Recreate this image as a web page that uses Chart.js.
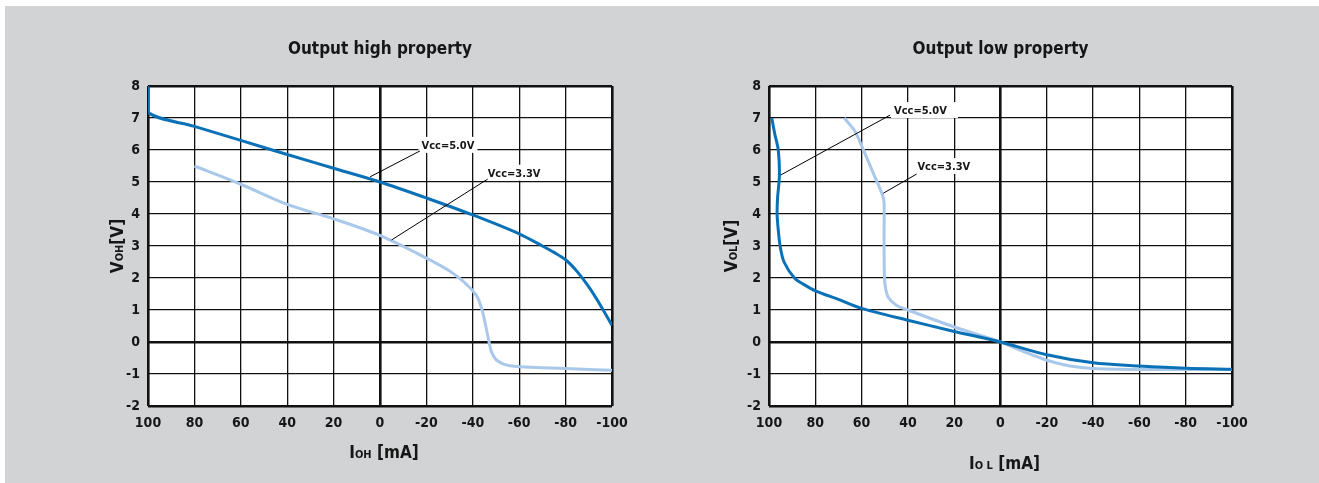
<!DOCTYPE html>
<html>
<head>
<meta charset="utf-8">
<script src="https://cdn.jsdelivr.net/npm/chart.js@4.4.1/dist/chart.umd.min.js"></script>
<style>
  html, body { margin: 0; padding: 0; background: #fff; overflow: hidden; }
  #panel { position: fixed; left: 5px; top: 6px; width: 1400px; height: 600px; background: #d1d3d4; }
  .box { position: fixed; top: 6px; height: 477px; }
  #leftBox { left: 5px; width: 655px; }
  #rightBox { left: 660px; width: 659px; }
</style>
</head>
<body>
<div id="panel"></div>
<div class="box" id="leftBox"><canvas id="highChart"></canvas></div>
<div class="box" id="rightBox"><canvas id="lowChart"></canvas></div>
<script>
// tick labels
const xTicks = [100, 80, 60, 40, 20, 0, -20, -40, -60, -80, -100];
const yTicks = [8, 7, 6, 5, 4, 3, 2, 1, 0, -1, -2];

// Output high property, Vcc=5.0V
const highVcc50X = [100, 100, 80, 60, 40, 20, 0, -20, -40, -60, -70, -75, -80, -85, -90, -95, -100];
const highVcc50Y = [8.0, 7.18, 6.74, 6.3, 5.86, 5.43, 5.0, 4.5, 3.97, 3.38, 3.0, 2.8, 2.57, 2.2, 1.72, 1.15, 0.52];
// Output high property, Vcc=3.3V
const highVcc33X = [80, 60, 40, 20, 0, -20, -30, -35, -38, -40, -42, -44, -45, -46, -47, -48, -50, -53, -56, -60, -80, -100];
const highVcc33Y = [5.5, 4.93, 4.3, 3.85, 3.33, 2.62, 2.22, 1.95, 1.75, 1.6, 1.4, 1.0, 0.7, 0.35, 0.0, -0.3, -0.55, -0.68, -0.74, -0.77, -0.83, -0.88];

// Output low property, Vcc=5.0V
const lowVcc50X = [98.8, 97.5, 96, 95.5, 96.3, 96.5, 96, 95.2, 93.5, 89, 85, 80, 70, 60, 40, 20, 0, -20, -40, -60, -80, -100];
const lowVcc50Y = [7.0, 6.5, 6.0, 5.2, 4.5, 4.0, 3.5, 3.0, 2.5, 2.0, 1.8, 1.6, 1.33, 1.05, 0.68, 0.33, 0, -0.4, -0.65, -0.75, -0.82, -0.85];
// Output low property, Vcc=3.3V
const lowVcc33X = [67.5, 63, 59.5, 54.5, 51, 50.3, 50.3, 50.2, 49.8, 48.5, 45, 40, 20, 0, -10, -20, -30, -40, -60, -100];
const lowVcc33Y = [7.0, 6.6, 6.05, 5.2, 4.6, 4.35, 3.3, 2.2, 1.75, 1.4, 1.15, 1.0, 0.47, 0, -0.3, -0.57, -0.75, -0.83, -0.86, -0.86];

const FONT = "'Liberation Sans Narrow', 'DejaVu Sans Condensed', 'Roboto Condensed', sans-serif";
const DARK = '#0a71b7';
const LIGHT = '#a9c8ea';
const INK = '#161616';

const toPoints = (xs, ys) => xs.map((x, i) => ({ x: x, y: ys[i] }));

// white plot area
const plotBg = {
  id: 'plotBg',
  beforeDraw(chart) {
    const { ctx, chartArea: a } = chart;
    ctx.save();
    ctx.fillStyle = '#fff';
    ctx.fillRect(a.left, a.top, a.right - a.left, a.bottom - a.top);
    ctx.restore();
  }
};

function drawParts(ctx, parts, cx, cy, rot) {
  ctx.save();
  ctx.translate(cx, cy);
  ctx.rotate(rot);
  let total = 0;
  parts.forEach(p => {
    ctx.font = `bold ${p.size}px ${FONT}`;
    p.w = ctx.measureText(p.text).width;
    total += p.w;
  });
  let x = -total / 2;
  parts.forEach(p => {
    ctx.font = `bold ${p.size}px ${FONT}`;
    ctx.fillText(p.text, x, 6);
    x += p.w;
  });
  ctx.restore();
}

// axis titles with small subscript letters
const axisTitles = {
  id: 'axisTitles',
  afterDraw(chart, args, opts) {
    const { ctx, chartArea: a } = chart;
    ctx.save();
    ctx.fillStyle = INK;
    ctx.textBaseline = 'alphabetic';
    drawParts(ctx, opts.xParts, (a.left + a.right) / 2 + 4, a.bottom + opts.xOffset, 0);
    drawParts(ctx, opts.yParts, a.left - opts.yOffset, (a.top + a.bottom) / 2, -Math.PI / 2);
    ctx.restore();
  }
};

// Vcc labels with leader lines
const callouts = {
  id: 'callouts',
  afterDatasetsDraw(chart, args, opts) {
    const { ctx, scales: { x, y } } = chart;
    ctx.save();
    opts.items.forEach(c => {
      ctx.font = `bold 11px ${FONT}`;
      const w = ctx.measureText(c.text).width;
      const lx = x.getPixelForValue(c.at[0]);
      const ly = y.getPixelForValue(c.at[1]);
      ctx.fillStyle = '#fff';
      ctx.fillRect(lx - 3, ly - 8, w + 6 + (c.extra || 0), 16);
      ctx.strokeStyle = '#000';
      ctx.lineWidth = 1;
      ctx.beginPath();
      ctx.moveTo(x.getPixelForValue(c.from[0]), y.getPixelForValue(c.from[1]));
      ctx.lineTo(x.getPixelForValue(c.to[0]), y.getPixelForValue(c.to[1]));
      ctx.stroke();
      ctx.fillStyle = INK;
      ctx.textBaseline = 'middle';
      ctx.fillText(c.text, lx, ly + 1);
    });
    ctx.restore();
  }
};

function gridWidth(ctx) {
  const v = ctx.tick ? ctx.tick.value : null;
  return (v === 0 || v === 8 || v === -2 || v === 100 || v === -100) ? 2.6 : 1.3;
}

function makeChart(id, cfg) {
  return new Chart(document.getElementById(id), {
    type: 'scatter',
    data: {
      datasets: [
        { label: 'Vcc=5.0V', data: cfg.dark, borderColor: DARK, showLine: true, borderWidth: 3, pointRadius: 0, tension: 0.3 },
        { label: 'Vcc=3.3V', data: cfg.light, borderColor: LIGHT, showLine: true, borderWidth: 3, pointRadius: 0, tension: 0.3 },
      ],
    },
    options: {
      responsive: true,
      maintainAspectRatio: false,
      animation: false,
      layout: { padding: { left: 0, right: cfg.padRight, top: 0, bottom: 0 } },
      plugins: {
        legend: { display: false },
        tooltip: { enabled: false },
        title: {
          display: true,
          text: cfg.title,
          fullSize: false,
          color: INK,
          font: { family: FONT, size: 17, weight: 'bold' },
          padding: { top: 33, bottom: 26.6 },
        },
        axisTitles: cfg.axisTitles,
        callouts: { items: cfg.callouts },
      },
      scales: {
        x: {
          type: 'linear',
          reverse: true,
          min: -100,
          max: 100,
          afterBuildTicks: (s) => { s.ticks = xTicks.map(v => ({ value: v })); },
          afterFit: (s) => { s.height = 77; },
          border: { display: false },
          grid: { color: '#111', lineWidth: gridWidth, drawTicks: false },
          ticks: { color: INK, padding: 9, maxRotation: 0, autoSkip: false, font: { family: FONT, size: 14, weight: 'bold' } },
        },
        y: {
          min: -2,
          max: 8,
          afterBuildTicks: (s) => { s.ticks = yTicks.map(v => ({ value: v })); },
          afterFit: (s) => { s.width = cfg.yWidth; },
          border: { display: false },
          grid: { color: '#111', lineWidth: gridWidth, drawTicks: false },
          ticks: { color: INK, padding: 8, font: { family: FONT, size: 14, weight: 'bold' } },
        },
      },
    },
    plugins: [plotBg, axisTitles, callouts],
  });
}

makeChart('highChart', {
  title: 'Output high property',
  dark: toPoints(highVcc50X, highVcc50Y),
  light: toPoints(highVcc33X, highVcc33Y),
  yWidth: 143,
  padRight: 48,
  axisTitles: {
    xParts: [{ text: 'I', size: 17 }, { text: 'OH', size: 11 }, { text: ' [mA]', size: 17 }],
    yParts: [{ text: 'V', size: 17 }, { text: 'OH', size: 11 }, { text: '[V]', size: 17 }],
    xOffset: 46,
    yOffset: 31,
  },
  callouts: [
    { text: 'Vcc=5.0V', at: [-17.9, 6.16], from: [-17.2, 5.97], to: [4.3, 5.16] },
    { text: 'Vcc=3.3V', at: [-46.4, 5.29], from: [-46.4, 5.09], to: [-5, 3.19] },
  ],
});

makeChart('lowChart', {
  title: 'Output low property',
  dark: toPoints(lowVcc50X, lowVcc50Y),
  light: toPoints(lowVcc33X, lowVcc33Y),
  yWidth: 109,
  padRight: 87,
  axisTitles: {
    xParts: [{ text: 'I', size: 17 }, { text: 'O L', size: 11 }, { text: ' [mA]', size: 17 }],
    yParts: [{ text: 'V', size: 17 }, { text: 'OL', size: 11 }, { text: '[V]', size: 17 }],
    xOffset: 57,
    yOffset: 38,
  },
  callouts: [
    { text: 'Vcc=5.0V', at: [46.0, 7.25], from: [47.7, 7.09], to: [94.9, 5.22], extra: 8 },
    { text: 'Vcc=3.3V', at: [35.9, 5.5], from: [36.2, 5.25], to: [50.6, 4.65] },
  ],
});
</script>
</body>
</html>
